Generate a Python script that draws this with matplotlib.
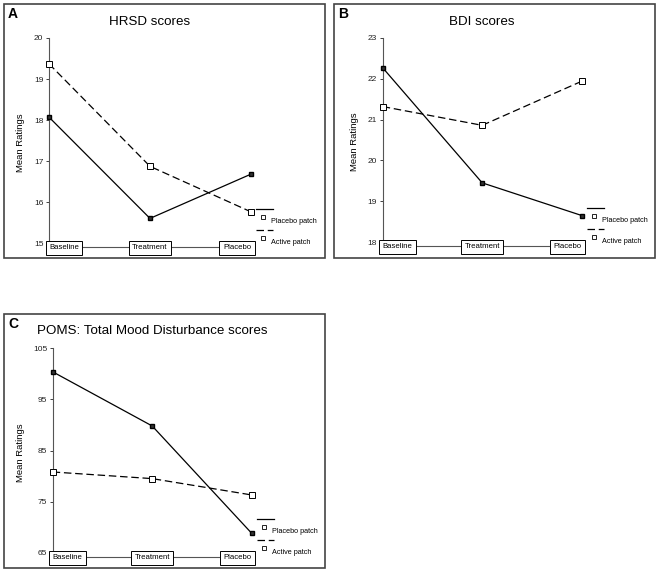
import matplotlib
matplotlib.use('Agg')
import matplotlib.pyplot as plt
from matplotlib.lines import Line2D
from matplotlib.patches import Rectangle

plt.rcParams['font.family'] = ['Liberation Sans', 'DejaVu Sans']

# data
categories = ['Baseline', 'Treatment', 'Placebo']
hrsd_placebo_patch = [18.07, 15.60, 16.68]
hrsd_active_patch = [19.37, 16.87, 15.76]
bdi_placebo_patch = [22.27, 19.45, 18.65]
bdi_active_patch = [21.32, 20.86, 21.94]
poms_placebo_patch = [100.4, 89.8, 68.8]
poms_active_patch = [80.8, 79.5, 76.3]

W, H = 658, 573
fig = plt.figure(figsize=(W / 100, H / 100), dpi=100)


def fx(px):
    return px / W


def fy(py):
    return 1 - py / H


def panel(frame, letter, title, title_xy, axbox, ylim, yticks, placebo, active, label_dx):
    # outer frame of the panel
    fl, ft, fr, fb = frame
    fig.add_artist(Rectangle((fx(fl), fy(fb)), (fr - fl) / W, (fb - ft) / H,
                             transform=fig.transFigure, fill=False,
                             edgecolor='#444444', linewidth=1.2))
    fig.text(fx(fl + 4), fy(ft + 10), letter, fontsize=10, fontweight='bold',
             ha='left', va='center')
    fig.text(fx(title_xy[0]), fy(title_xy[1]), title, fontsize=9.6,
             ha='center', va='center')

    x0, ytop, x1, ybot = axbox
    ax = fig.add_axes([fx(x0), fy(ybot), (x1 - x0) / W, (ybot - ytop) / H])
    x = range(len(categories))
    ax.plot(x, placebo, color='black', linewidth=0.9, marker='s', markersize=2.5,
            markerfacecolor='#333333', markeredgecolor='black', clip_on=False, zorder=3)
    ax.plot(x, active, color='black', linewidth=0.9, dashes=(6, 3), marker='s',
            markersize=4, markerfacecolor='white', markeredgecolor='black',
            markeredgewidth=0.7, clip_on=False, zorder=3)
    ax.set_xlim(0, 2)
    ax.set_ylim(ylim)
    ax.set_yticks(yticks)
    ax.set_xticks([])
    ax.tick_params(axis='y', labelsize=6, length=2.5, width=0.6, pad=1.5, colors='#222222')
    for s in ['top', 'right']:
        ax.spines[s].set_visible(False)
    ax.spines['left'].set_color('#555555')
    ax.spines['bottom'].set_color('#555555')
    ax.spines['left'].set_linewidth(0.8)
    ax.spines['bottom'].set_linewidth(0.8)
    ax.patch.set_visible(False)
    ax.set_ylabel('Mean Ratings', fontsize=6.8)
    ax.yaxis.set_label_coords(-label_dx / (x1 - x0), 0.5)

    # boxed category labels on the bottom line
    aligns = ['left', 'center', 'right']
    for i, cat in enumerate(categories):
        ax.text(i, ylim[0], cat, ha=aligns[i], va='center_baseline', fontsize=5.6,
                bbox=dict(boxstyle='square,pad=0.45', facecolor='white',
                          edgecolor='black', linewidth=0.7),
                zorder=5, clip_on=False)

    # odd excel-style legend to the right of the plot
    lx0, lx1 = x1 + 5, x1 + 22
    fig.add_artist(Line2D([fx(lx0), fx(lx1)], [fy(ybot - 37.5)] * 2,
                          transform=fig.transFigure, color='black', linewidth=0.9))
    fig.add_artist(Line2D([fx(x1 + 12)], [fy(ybot - 29.5)], transform=fig.transFigure,
                          marker='s', markersize=2.5, markerfacecolor='white',
                          markeredgecolor='black', markeredgewidth=0.6, linestyle='none'))
    fig.text(fx(x1 + 20), fy(ybot - 25.5), 'Placebo patch', fontsize=5.2,
             ha='left', va='center')
    fig.add_artist(Line2D([fx(lx0), fx(lx1)], [fy(ybot - 16.5)] * 2,
                          transform=fig.transFigure, color='black', linewidth=0.9,
                          dashes=(6, 3)))
    fig.add_artist(Line2D([fx(x1 + 12)], [fy(ybot - 8.5)], transform=fig.transFigure,
                          marker='s', markersize=3.5, markerfacecolor='white',
                          markeredgecolor='black', markeredgewidth=0.6, linestyle='none'))
    fig.text(fx(x1 + 20), fy(ybot - 4.5), 'Active patch', fontsize=5.2,
             ha='left', va='center')
    return ax


panel((4, 4, 325, 258), 'A', 'HRSD scores', (150, 22),
      (49, 38, 251, 246.7), (14.91, 20), [15, 16, 17, 18, 19, 20],
      hrsd_placebo_patch, hrsd_active_patch, 24)

panel((334, 4, 655, 258), 'B', 'BDI scores', (482, 22),
      (382.7, 38, 581.7, 245.7), (17.91, 23), [18, 19, 20, 21, 22, 23],
      bdi_placebo_patch, bdi_active_patch, 23.5)

panel((4, 314, 325, 568), 'C', 'POMS: Total Mood Disturbance scores', (152, 331.5),
      (52.7, 348.3, 251.7, 556.7), (64.22, 105), [65, 75, 85, 95, 105],
      poms_placebo_patch, poms_active_patch, 27.5)

fig.savefig('out.png', dpi=100)
